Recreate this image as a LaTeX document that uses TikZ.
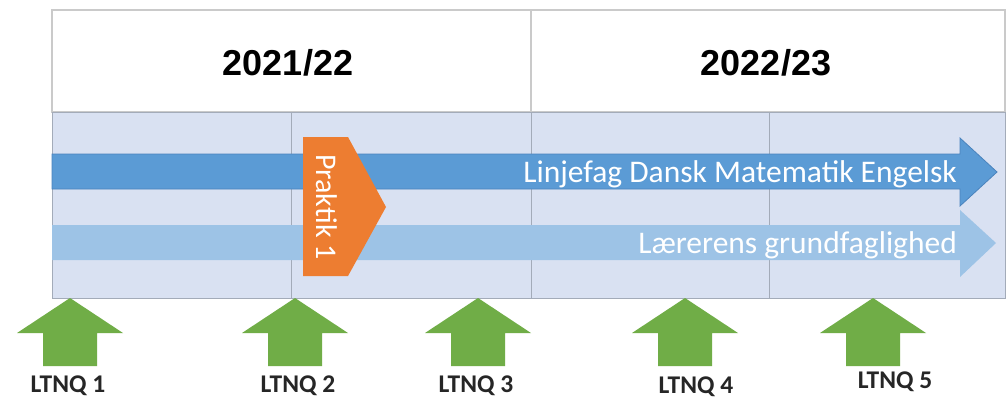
\documentclass[tikz,border=0pt]{standalone}
\usepackage{fontspec}
\setmainfont{Carlito}
\newfontfamily\hdfont{Liberation Sans}
\definecolor{bodyfill}{HTML}{D9E1F2}
\definecolor{gridcol}{HTML}{A3ABB9}
\definecolor{hdcol}{HTML}{CACACA}
\definecolor{darkblue}{HTML}{5B9BD5}
\definecolor{darkedge}{HTML}{4A83BD}
\definecolor{lightblue}{HTML}{9DC3E6}
\definecolor{orangec}{HTML}{ED7D31}
\definecolor{greenc}{HTML}{70AD47}
\begin{document}
\begin{tikzpicture}[x=1pt,y=-1pt,
  hdline/.style={draw=hdcol,line width=1.2pt},
  gridline/.style={draw=gridcol,line width=0.8pt},
  yearlabel/.style={font=\hdfont\bfseries\fontsize{36}{40}\selectfont,text=black,inner sep=0pt},
  barlabel/.style={font=\fontsize{31.5}{34}\selectfont,text=white,inner sep=0pt},
  ltnq/.style={font=\bfseries\fontsize{25.5}{27}\selectfont,text=black!85,inner sep=0pt,anchor=north},
  greenarrow/.style={fill=greenc}]
\clip (0,0) rectangle (1006,397);
\fill[white] (0,0) rectangle (1006,397);
% header
\draw[hdline,fill=white] (52,10) rectangle (1005,112);
\draw[hdline] (531,10) -- (531,112);
\node[yearlabel] (y1) at (288,63) {2021/22};
\node[yearlabel] (y2) at (766,63) {2022/23};
% body
\fill[bodyfill] (52,112) rectangle (1005,298);
\draw[gridline] (52,112) rectangle (1005,298);
\foreach \x in {291,531,769} \draw[gridline] (\x,112) -- (\x,298);
% dark arrow
\filldraw[fill=darkblue,draw=darkedge,line width=0.8pt] (52,154) -- (960,154) -- (960,138) -- (997,172) -- (960,206) -- (960,189) -- (52,189) -- cycle;
\node[barlabel,anchor=base east] (lf) at (957,182) {Linjefag Dansk Matematik Engelsk};
% light arrow
\fill[lightblue] (52,225) -- (960,225) -- (960,210) -- (996,243) -- (960,277) -- (960,260) -- (52,260) -- cycle;
\node[barlabel,anchor=base east] (gf) at (957,253) {Lærerens grundfaglighed};
% orange
\fill[orangec] (303,137) -- (348,137) -- (386,207) -- (348,276) -- (303,276) -- cycle;
\node[barlabel,font=\fontsize{30}{33}\selectfont,rotate=-90] (pr) at (327,207) {Praktik 1};
% green arrows
\foreach \c in {70,295,478,685,873}
  \fill[greenarrow] (\c-53,333) -- (\c,298) -- (\c+53,333) -- (\c+27,333) -- (\c+27,366) -- (\c-27,366) -- (\c-27,333) -- cycle;
\node[ltnq] (l1) at (68,376) {LTNQ 1};
\node[ltnq] (l2) at (298,376) {LTNQ 2};
\node[ltnq] (l3) at (476,376) {LTNQ 3};
\node[ltnq] (l4) at (696,377) {LTNQ 4};
\node[ltnq] (l5) at (895,372) {LTNQ 5};
\end{tikzpicture}
\end{document}
